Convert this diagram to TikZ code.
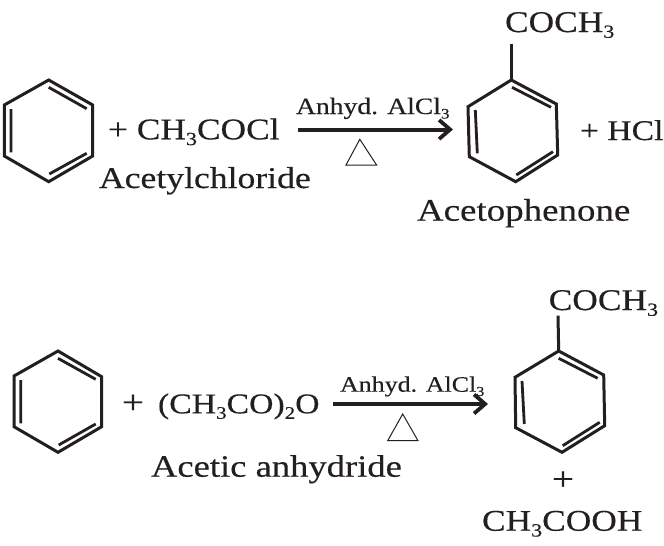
\documentclass[tikz,border=0pt]{standalone}
\usepackage{fontspec}
\setmainfont[RawFeature={extend=1.18;embolden=0.35}]{Liberation Serif}
\definecolor{ink}{HTML}{231F20}
\newcommand{\sbs}[1]{\raisebox{-0.42ex}{\scalebox{.62}{#1}}}
\newcommand{\fsz}[1]{\fontsize{#1}{#1}\selectfont}
\usetikzlibrary{arrows.meta}
\tikzset{
  lab/.style={anchor=base west,inner sep=0pt,outer sep=0pt,text=ink,font=\fsz{30}},
  ring/.style={draw=ink,line width=3pt,line join=miter},
  inner bond/.style={draw=ink,line width=2.8pt},
  rxn/.style={draw=ink,line width=4pt,-{Straight Barb[length=11pt,width=19pt,line width=3.8pt]}},
  delta/.style={draw=ink,line width=1pt,line join=miter},
}
\begin{document}
\begin{tikzpicture}[x=1pt,y=-1pt]
\useasboundingbox (0,0) rectangle (664,546);
\fill[white] (0,0) rectangle (664,546);
% ring A
\coordinate (a1) at (48.7,80); \coordinate (a2) at (92.7,105); \coordinate (a3) at (92.7,156);
\coordinate (a4) at (48.7,181.7); \coordinate (a5) at (4.3,156); \coordinate (a6) at (4.3,105);
\draw[ring] (a1)--(a2)--(a3)--(a4)--(a5)--(a6)--cycle;
\coordinate (ai1) at (11,109); \coordinate (ai2) at (11,152.3);
\coordinate (ai3) at (48.7,87.3); \coordinate (ai4) at (86.7,108.7);
\coordinate (ai5) at (49.3,174); \coordinate (ai6) at (86.7,153.3);
\draw[inner bond] (ai1)--(ai2) (ai3)--(ai4) (ai5)--(ai6);
% ring B
\coordinate (b1) at (511.3,80); \coordinate (b2) at (556.3,104); \coordinate (b3) at (557.7,155);
\coordinate (b4) at (515.7,181.7); \coordinate (b5) at (469.3,156.7); \coordinate (b6) at (468,106.7);
\draw[ring] (b1)--(b2)--(b3)--(b4)--(b5)--(b6)--cycle;
\coordinate (bi1) at (475.3,110); \coordinate (bi2) at (477.3,153.3);
\coordinate (bi3) at (512,87.3); \coordinate (bi4) at (551,107.3);
\coordinate (bi5) at (516.3,175); \coordinate (bi6) at (553,151.7);
\draw[inner bond] (bi1)--(bi2) (bi3)--(bi4) (bi5)--(bi6);
\coordinate (bs) at (511.3,44.3);
\draw[ring] (bs)--(b1);
% ring C
\coordinate (c1) at (58,351); \coordinate (c2) at (101.7,376.7); \coordinate (c3) at (101.7,426.7);
\coordinate (c4) at (58,452.3); \coordinate (c5) at (14,426.7); \coordinate (c6) at (14,376);
\draw[ring] (c1)--(c2)--(c3)--(c4)--(c5)--(c6)--cycle;
\coordinate (ci1) at (20.7,380); \coordinate (ci2) at (20.7,423.3);
\coordinate (ci3) at (58,358.3); \coordinate (ci4) at (95.7,379.3);
\coordinate (ci5) at (58.7,445); \coordinate (ci6) at (95.7,424);
\draw[inner bond] (ci1)--(ci2) (ci3)--(ci4) (ci5)--(ci6);
% ring D
\coordinate (d1) at (558.7,351); \coordinate (d2) at (603.7,375); \coordinate (d3) at (604.7,425.7);
\coordinate (d4) at (562,452.3); \coordinate (d5) at (515.7,427.7); \coordinate (d6) at (515,377.3);
\draw[ring] (d1)--(d2)--(d3)--(d4)--(d5)--(d6)--cycle;
\coordinate (di1) at (522,381); \coordinate (di2) at (524.3,424);
\coordinate (di3) at (558.7,358.3); \coordinate (di4) at (597.7,378.3);
\coordinate (di5) at (562.7,445.7); \coordinate (di6) at (599.7,422.3);
\draw[inner bond] (di1)--(di2) (di3)--(di4) (di5)--(di6);
\coordinate (ds) at (558,315.7);
\draw[ring] (ds)--(d1);
% arrows
\coordinate (r1s) at (298,129.5); \coordinate (r1e) at (453,129.5);
\draw[rxn] (r1s)--(r1e);
\coordinate (r2s) at (333,404); \coordinate (r2e) at (488,404);
\draw[rxn] (r2s)--(r2e);
% heat triangles
\coordinate (t1) at (359.8,139.3); \coordinate (t2) at (346,165); \coordinate (t3) at (376.6,165);
\draw[delta] (t1)--(t2)--(t3)--cycle;
\coordinate (u1) at (402.7,414); \coordinate (u2) at (387.7,440.7); \coordinate (u3) at (418,440.7);
\draw[delta] (u1)--(u2)--(u3)--cycle;
% labels
\node[lab] (plus1) at (108,139.3) {+ CH\sbs{3}COCl};
\node[lab,font=\fsz{30.2}] (acl) at (99,188) {Acetylchloride};
\node[lab,font=\fsz{23.4}] (cat1) at (296,114) {Anhyd. AlCl\sbs{3}};
\node[lab] (coch1) at (505,32) {COCH\sbs{3}};
\node[lab,font=\fsz{28.5}] (hcl) at (580,140) {+ HCl};
\node[lab,font=\fsz{31.3}] (aceto) at (417,220.7) {Acetophenone};
\node[lab,font=\fsz{33}] (plus2) at (122,413.3) {+};
\node[lab,font=\fsz{28.6}] (anh) at (158,413.3) {(CH\sbs{3}CO)\sbs{2}O};
\node[lab,font=\fsz{31}] (aan) at (151,476.7) {Acetic anhydride};
\node[lab,font=\fsz{22}] (cat2) at (340,391.7) {Anhyd. AlCl\sbs{3}};
\node[lab] (coch2) at (548.7,310) {COCH\sbs{3}};
\node[lab,anchor=base,font=\fsz{33}] (plus3) at (563,490) {+};
\node[lab] (acoh) at (482,530.7) {CH\sbs{3}COOH};
\end{tikzpicture}
\end{document}
